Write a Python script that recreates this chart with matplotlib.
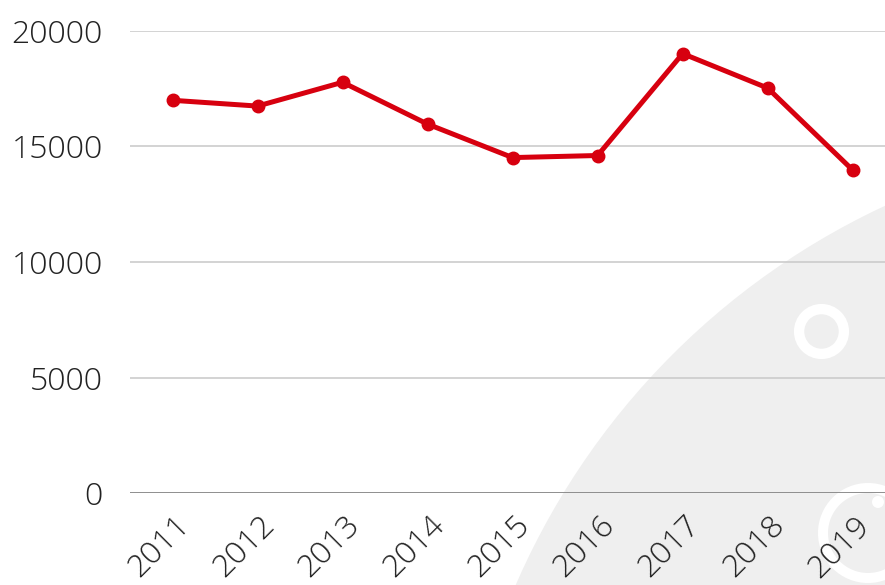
import matplotlib
matplotlib.use("Agg")
import matplotlib.pyplot as plt
import matplotlib.transforms as mtransforms
from matplotlib.patches import Circle

years = ["2011", "2012", "2013", "2014", "2015", "2016", "2017", "2018", "2019"]
values = [17000, 16750, 17780, 15970, 14520, 14610, 19020, 17530, 13980]
y_ticks = [0, 5000, 10000, 15000, 20000]

plt.rcParams["font.family"] = ["Open Sans", "DejaVu Sans"]
plt.rcParams["font.weight"] = "light"

fig = plt.figure(figsize=(8.85, 5.85), dpi=100)
ax = fig.add_axes([130 / 885, 92 / 585, 755 / 885, 462 / 585])
ax.set_facecolor("none")

# watermark in the background (inches from lower left)
fig.patches.append(Circle((12.0, -2.97), 7.46, transform=fig.dpi_scale_trans,
                          facecolor="#efefef", edgecolor="none", zorder=-2))
fig.patches.append(Circle((8.215, 2.535), 0.224, transform=fig.dpi_scale_trans,
                          facecolor="none", edgecolor="white", lw=7.4, zorder=-1))
fig.patches.append(Circle((8.68, 0.52), 0.45, transform=fig.dpi_scale_trans,
                          facecolor="none", edgecolor="white", lw=7.2, zorder=-1))
fig.patches.append(Circle((8.78, 0.83), 0.06, transform=fig.dpi_scale_trans,
                          facecolor="white", edgecolor="none", zorder=-1))

x = list(range(len(years)))
ax.plot(x, values, color="#d7000f", lw=3.6, marker="o", markersize=9,
        clip_on=False, zorder=3)

ax.set_xlim(-0.5, 8.38)
ax.set_ylim(0, 20000)
ax.set_yticks(y_ticks)
ax.set_yticklabels([str(v) for v in y_ticks])
ax.grid(axis="y", color="#c8c8c8", lw=1.1)
ax.axhline(0, color="#8a8a8a", lw=1.3, zorder=2)
ax.set_axisbelow(True)
for s in ax.spines.values():
    s.set_visible(False)

ax.tick_params(axis="y", length=0, pad=19.5, labelsize=23, labelcolor="#222222")
ax.tick_params(axis="x", length=0, pad=0, labelsize=23, labelcolor="#222222")
ax.set_xticks(x)
ax.set_xticklabels(years, rotation=45, ha="center", va="center",
                   rotation_mode="anchor")
offset = mtransforms.ScaledTranslation(-0.13, -0.54, fig.dpi_scale_trans)
for lab in ax.get_xticklabels():
    lab.set_transform(lab.get_transform() + offset)

fig.savefig("out.png", dpi=100)
